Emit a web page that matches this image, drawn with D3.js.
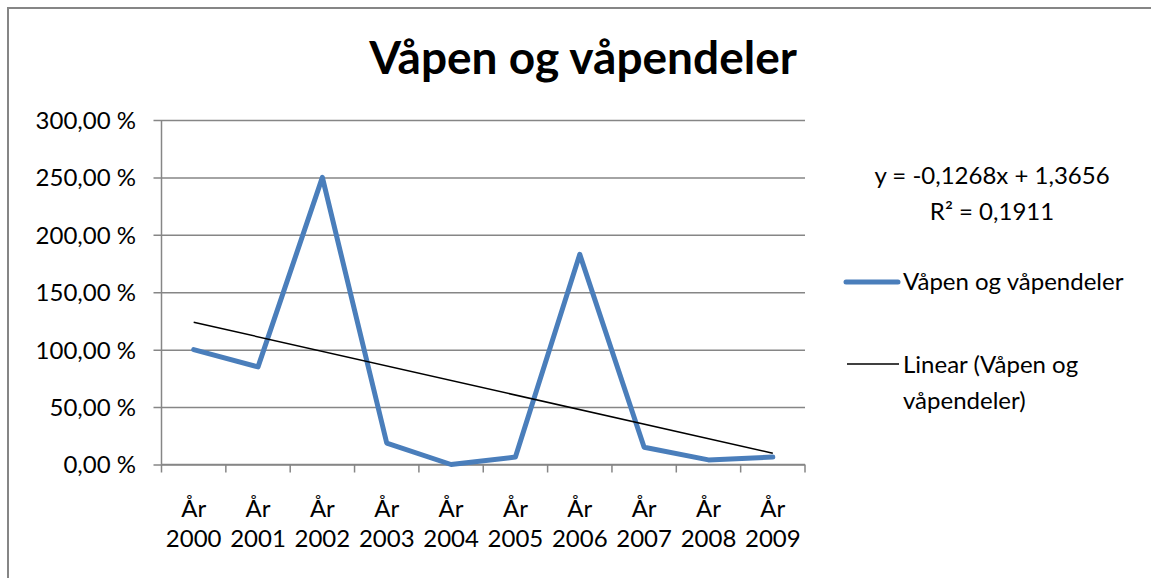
<!DOCTYPE html>
<html>
<head>
<meta charset="utf-8">
<script src="https://cdn.jsdelivr.net/npm/d3@7"></script>
<style>
  html, body { margin: 0; background: #fff; overflow: hidden; }
  svg { display: block; }
  text { font-family: Lato, "Open Sans", sans-serif; fill: #000; }
</style>
</head>
<body>
<div id="chart"></div>
<script>
// data
const categories = ['År 2000', 'År 2001', 'År 2002', 'År 2003', 'År 2004',
  'År 2005', 'År 2006', 'År 2007', 'År 2008', 'År 2009']
const values = [1.00, 0.85, 2.50, 0.187, 0.0, 0.065, 1.83, 0.15, 0.04, 0.065]
const yTicks = [0, 0.5, 1, 1.5, 2, 2.5, 3]
// trendline as printed on the chart
const trendCoef = [-0.1268, 1.3656]
const trendLabels = ['y = -0,1268x + 1,3656', 'R² = 0,1911']
const seriesName = 'Våpen og våpendeler'
const trendName = ['Linear (Våpen og', 'våpendeler)']

const width = 1151,
  height = 578
const plot = { left: 161.5, right: 805, top: 120, bottom: 464.5 }
const grey = '#868686',
  blue = '#4a7ebb',
  fs = '24px'

let svg = d3.select('#chart')
  .append('svg')
  .attr('width', width)
  .attr('height', height)

// outer chart border: only left and top edges are inside the picture
svg.append('path')
  .attr('d', `M8,${height}V8H${width}`)
  .attr('fill', 'none')
  .attr('stroke', grey)
  .attr('stroke-width', 2)

svg.append('text')
  .attr('x', 583).attr('y', 74)
  .attr('text-anchor', 'middle')
  .style('font-size', '46px')
  .style('font-weight', 'bold')
  .text('Våpen og våpendeler')

const x = d3.scaleBand()
  .domain(categories)
  .range([plot.left, plot.right])

const y = d3.scaleLinear()
  .domain([0, 3])
  .range([plot.bottom, plot.top])

const pct = d => d3.format('.2f')(d * 100).replace('.', ',') + ' %'

// gridlines + left ticks
const yAxis = d3.axisLeft(y)
  .tickValues(yTicks)
  .tickSize(plot.right - plot.left + 8)
  .tickFormat(pct)

let gy = svg.append('g')
  .attr('transform', `translate(${plot.right},0)`)
  .call(yAxis)
gy.select('.domain').remove()
gy.selectAll('.tick line')
  .attr('stroke', grey)
  .attr('stroke-width', 1.5)
gy.selectAll('.tick text')
  .attr('x', -(plot.right - plot.left) - 25.5)
  .style('font-size', fs)
  .attr('dy', '0.35em')

// vertical axis line
svg.append('line')
  .attr('x1', plot.left).attr('x2', plot.left)
  .attr('y1', y(3)).attr('y2', plot.bottom)
  .attr('stroke', grey)
  .attr('stroke-width', 1.5)

// x axis ticks at category boundaries
const bounds = categories.map(c => x(c)).concat([plot.right])
svg.append('g')
  .selectAll('line')
  .data(bounds)
  .enter()
  .append('line')
  .attr('x1', d => d).attr('x2', d => d)
  .attr('y1', plot.bottom).attr('y2', plot.bottom + 8)
  .attr('stroke', grey)
  .attr('stroke-width', 1.5)

svg.append('line')
  .attr('x1', plot.left).attr('x2', plot.right)
  .attr('y1', plot.bottom).attr('y2', plot.bottom)
  .attr('stroke', grey)
  .attr('stroke-width', 1.5)

const cx = d => x(d) + x.bandwidth() / 2

let xl = svg.append('g')
  .selectAll('text')
  .data(categories)
  .enter()
  .append('text')
  .attr('text-anchor', 'middle')
  .style('font-size', fs)
xl.append('tspan')
  .attr('x', d => cx(d))
  .attr('y', 517)
  .text(d => d.split(' ')[0])
xl.append('tspan')
  .attr('x', d => cx(d))
  .attr('y', 547)
  .text(d => d.split(' ')[1])

// series line
const line = d3.line()
  .x((d, i) => cx(categories[i]))
  .y(d => y(d))

svg.append('path')
  .datum(values)
  .attr('d', line)
  .attr('fill', 'none')
  .attr('stroke', blue)
  .attr('stroke-width', 5)
  .attr('stroke-linejoin', 'round')
  .attr('stroke-linecap', 'round')

// linear trendline, x = 1..n
const trendPts = [1, categories.length].map(n => [cx(categories[n - 1]), y(trendCoef[0] * n + trendCoef[1])])
svg.append('path')
  .attr('d', d3.line()(trendPts))
  .attr('fill', 'none')
  .attr('stroke', '#000')
  .attr('stroke-width', 1.5)

// equation label
svg.append('g')
  .selectAll('text')
  .data(trendLabels)
  .enter()
  .append('text')
  .attr('x', 992)
  .attr('y', (d, i) => 184 + i * 36)
  .attr('text-anchor', 'middle')
  .style('font-size', fs)
  .text(d => d)

// legend
svg.append('line')
  .attr('x1', 846).attr('x2', 898)
  .attr('y1', 282).attr('y2', 282)
  .attr('stroke', blue)
  .attr('stroke-width', 5)
  .attr('stroke-linecap', 'round')
svg.append('text')
  .attr('x', 903).attr('y', 290)
  .style('font-size', fs)
  .text(seriesName)

svg.append('line')
  .attr('x1', 847).attr('x2', 899)
  .attr('y1', 364).attr('y2', 364)
  .attr('stroke', '#000')
  .attr('stroke-width', 1.5)
svg.append('g')
  .selectAll('text')
  .data(trendName)
  .enter()
  .append('text')
  .attr('x', 903)
  .attr('y', (d, i) => 373 + i * 36)
  .style('font-size', fs)
  .text(d => d)
</script>
</body>
</html>
